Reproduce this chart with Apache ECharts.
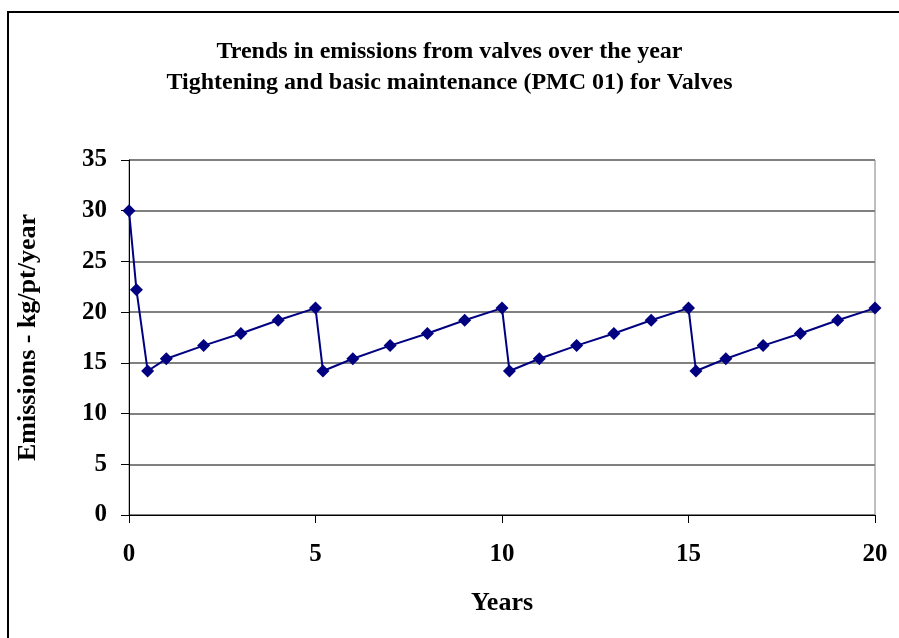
<!DOCTYPE html>
<html><head><meta charset="utf-8">
<script src="https://cdn.jsdelivr.net/npm/echarts@6/dist/echarts.min.js"></script>
<style>html,body{margin:0;padding:0;background:#fff}#c{width:899px;height:638px}</style>
</head><body><div id="c"></div>
<script>
const titleLines = ['Trends in emissions from valves over the year', 'Tightening and basic maintenance (PMC 01) for Valves'];
const xAxisName = 'Years';
const yAxisName = 'Emissions - kg/pt/year';
const years = [0, 0.2, 0.5, 1, 2, 3, 4, 5, 5.2, 6, 7, 8, 9, 10, 10.2, 11, 12, 13, 14, 15, 15.2, 16, 17, 18, 19, 20];
const emissions = [30, 22.2, 14.2, 15.4, 16.7, 17.9, 19.2, 20.4, 14.2, 15.4, 16.7, 17.9, 19.2, 20.4, 14.2, 15.4, 16.7, 17.9, 19.2, 20.4, 14.2, 15.4, 16.7, 17.9, 19.2, 20.4];

const font = '"Liberation Serif", "Times New Roman", serif';
const chart = echarts.init(document.getElementById('c'), null, {renderer: 'canvas'});
chart.setOption({
  animation: false,
  backgroundColor: '#fff',
  graphic: [{type: 'rect', shape: {x: 8, y: 12, width: 900, height: 640}, style: {fill: 'none', stroke: '#000', lineWidth: 2}, z: 0}],
  title: {
    text: titleLines.join('\n'), left: 'center', top: 31,
    textStyle: {fontFamily: font, fontWeight: 'bold', fontSize: 24, lineHeight: 31, color: '#000'}
  },
  grid: {left: 129, right: 24, top: 160, bottom: 123, show: true, borderColor: '#808080', borderWidth: 1},
  xAxis: {
    type: 'value', min: 0, max: 20, interval: 5,
    name: xAxisName, nameLocation: 'middle', nameGap: 75,
    nameTextStyle: {fontFamily: font, fontWeight: 'bold', fontSize: 26, color: '#000'},
    axisLine: {show: true, onZero: false, lineStyle: {color: '#000', width: 1}},
    axisTick: {show: true, length: 8, inside: false, lineStyle: {color: '#000'}},
    axisLabel: {fontFamily: font, fontWeight: 'bold', fontSize: 25, color: '#000', margin: 27},
    splitLine: {show: false}
  },
  yAxis: {
    type: 'value', min: 0, max: 35, interval: 5,
    name: yAxisName, nameLocation: 'middle', nameGap: 88, nameRotate: 90,
    nameTextStyle: {fontFamily: font, fontWeight: 'bold', fontSize: 26, color: '#000'},
    axisLine: {show: true, lineStyle: {color: '#000', width: 1}},
    axisTick: {show: true, length: 8, lineStyle: {color: '#000'}},
    axisLabel: {fontFamily: font, fontWeight: 'bold', fontSize: 25, color: '#000', margin: 22},
    splitLine: {show: true, lineStyle: {color: '#808080', width: 2}}
  },
  series: [{
    type: 'line',
    data: years.map((x, i) => [x, emissions[i]]),
    symbol: 'diamond', symbolSize: 13,
    lineStyle: {color: '#000080', width: 2},
    itemStyle: {color: '#000080'},
    z: 5
  }]
});
</script></body></html>
